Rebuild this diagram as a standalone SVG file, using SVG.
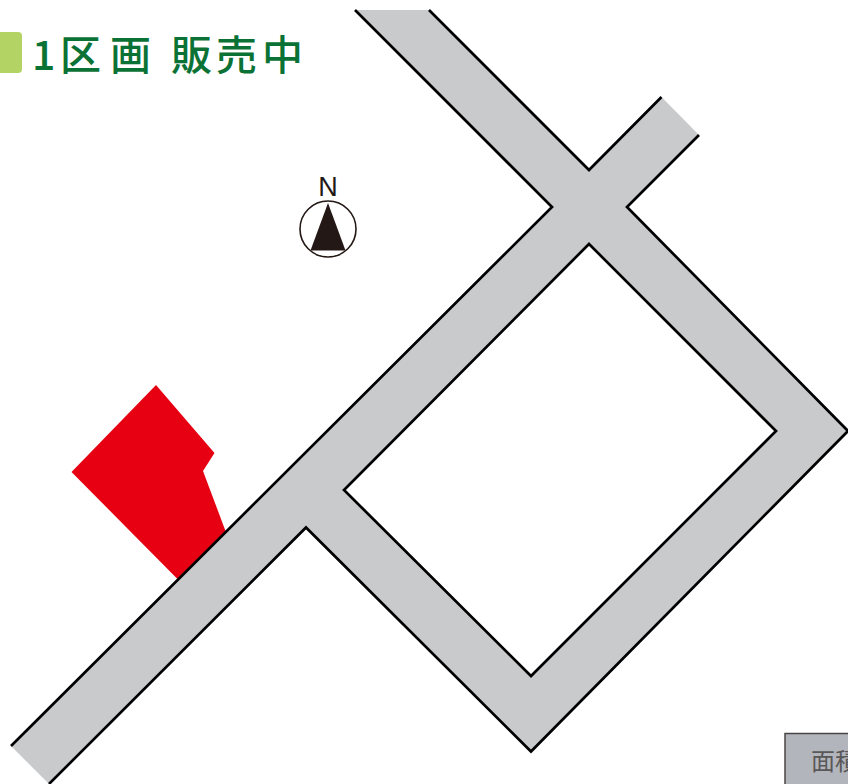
<svg xmlns="http://www.w3.org/2000/svg" width="848" height="784" viewBox="0 0 848 784">
<style>
.edge{fill:none;stroke:#000;stroke-width:2.7;stroke-linejoin:miter;stroke-linecap:butt}
.title{font-family:"Noto Sans CJK JP","Noto Sans",sans-serif;font-size:41px;font-weight:500;fill:#0b7236}
</style>
<rect width="848" height="784" fill="#fff"/>
<g id="title">
<rect x="-10" y="32" width="32" height="41" rx="4" fill="#b3d465"/>
<text class="title" x="32" y="70">1</text>
<text class="title" x="60 110 171 216 262" y="70">区画販売中</text>
</g>
<g id="lot">
<polygon points="156,385 214.500,453 203,471 225.500,531 177.500,579 71.500,472" fill="#e60012"/>
</g>
<g id="connectors">
<path fill="#c9cacc" fill-rule="evenodd" d="M355,10 H429 L589,170 L661.500,97 L699,135 L627,207 L848,431 L531,751.500 L306,527.500 L49,784 L11,746 L552,207 Z M589,244 L344,490 L531,676 L776,431 Z"/>
<path class="edge" d="M355,10 L552,207 L11,746"/>
<path class="edge" d="M429,10 L589,170 L661.500,97"/>
<path class="edge" d="M699,135 L627,207 L848,431 L531,751.500 L306,527.500 L49,784"/>
<path class="edge" d="M589,244 L776,431 L531,676 L344,490 Z"/>
</g>
<g id="north">
<text x="328" y="196" text-anchor="middle" font-family="Liberation Sans,Arial,sans-serif" font-size="27" fill="#231815">N</text>
<circle cx="328" cy="229" r="28" fill="#fff" stroke="#231815" stroke-width="1.6"/>
<polygon points="328,203 310.500,250.500 345.500,250.500" fill="#231815"/>
</g>
<g id="area-box">
<rect x="785" y="733.500" width="80" height="60" fill="#b3b5bd" stroke="#4a4543" stroke-width="1.500"/>
<text x="811" y="770" font-family="Noto Sans CJK JP,sans-serif" font-size="24" fill="#595757">面積</text>
</g>
</svg>
